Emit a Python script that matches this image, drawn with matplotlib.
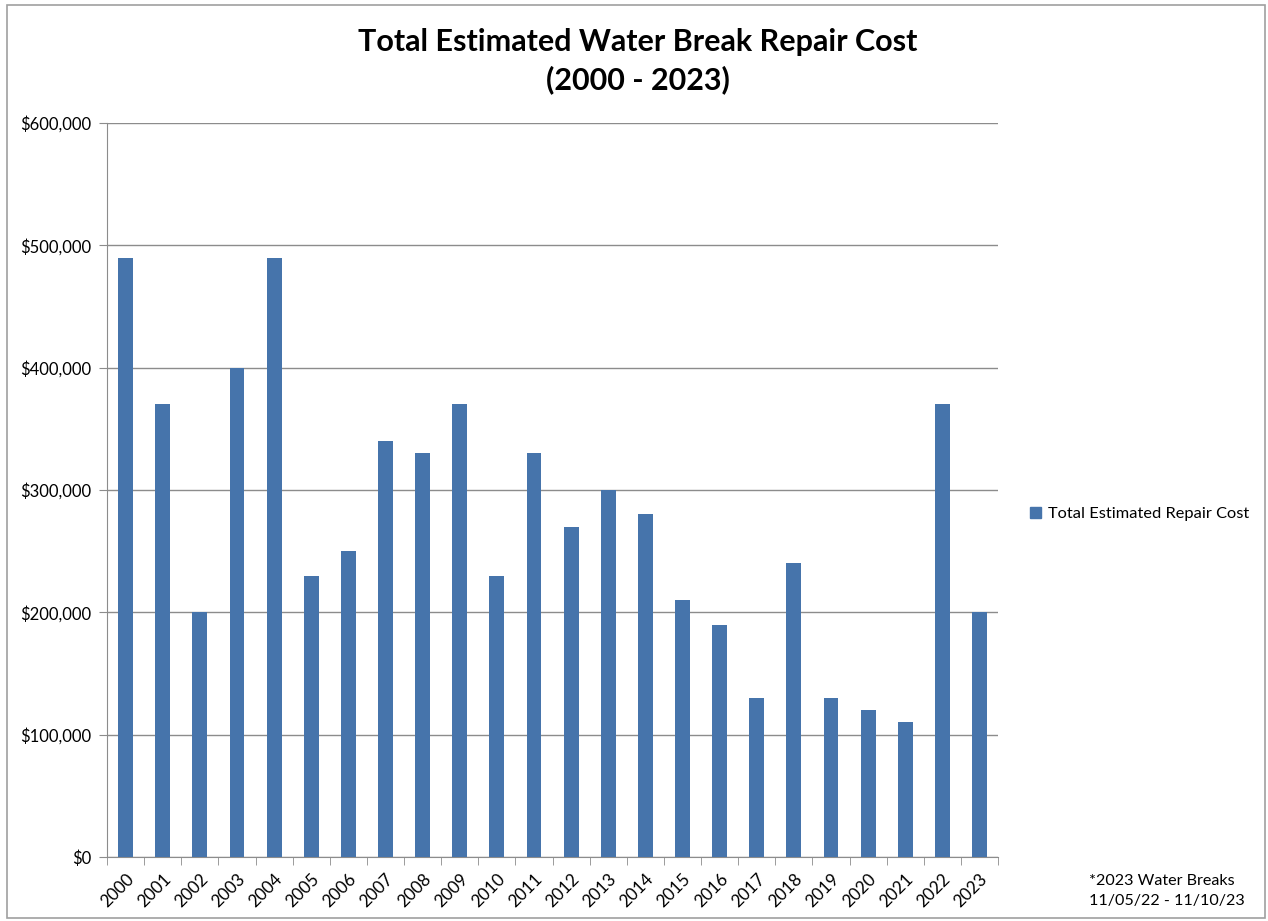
import matplotlib
matplotlib.use('Agg')
import matplotlib.pyplot as plt
from matplotlib.patches import Rectangle, Patch
from matplotlib.ticker import FuncFormatter, FixedLocator

years = ['2000', '2001', '2002', '2003', '2004', '2005', '2006', '2007', '2008', '2009',
         '2010', '2011', '2012', '2013', '2014', '2015', '2016', '2017', '2018', '2019',
         '2020', '2021', '2022', '2023']
costs = [490000, 370000, 200000, 400000, 490000, 230000, 250000, 340000, 330000, 370000,
         230000, 330000, 270000, 300000, 280000, 210000, 190000, 130000, 240000, 130000,
         120000, 110000, 370000, 200000]
y_ticks = [0, 100000, 200000, 300000, 400000, 500000, 600000]

plt.rcParams['font.family'] = ['Lato', 'DejaVu Sans']
bar_color = '#4674AB'
grid_color = '#8c8c8c'

fig = plt.figure(figsize=(12.68, 9.21), dpi=100)
ax = fig.add_axes([0.0844, 0.0695, 0.7027, 0.797])

x = list(range(len(years)))
ax.bar(x, costs, width=0.4, color=bar_color, zorder=3, label='Total Estimated Repair Cost')

ax.set_xlim(-0.5, len(years) - 0.5)
ax.set_ylim(0, 600000)
ax.set_yticks(y_ticks)
ax.yaxis.set_major_formatter(FuncFormatter(lambda v, p: '${:,.0f}'.format(v)))
ax.yaxis.grid(True, color=grid_color, linewidth=1, zorder=0)

ax.set_xticks(x)
ax.set_xticklabels(years, rotation=45, ha='right', rotation_mode='anchor')
ax.xaxis.set_minor_locator(FixedLocator([i - 0.5 for i in range(len(years) + 1)]))
ax.tick_params(axis='x', which='major', length=0, pad=10, labelsize=12.3)
ax.tick_params(axis='x', which='minor', length=6, color=grid_color)
ax.tick_params(axis='y', length=6, color=grid_color, labelsize=12, pad=5)

for s in ['top', 'right']:
    ax.spines[s].set_visible(False)
for s in ['left', 'bottom']:
    ax.spines[s].set_color(grid_color)

fig.text(0.503, 0.954, 'Total Estimated Water Break Repair Cost', ha='center', va='center',
         fontsize=22, fontweight='bold')
fig.text(0.503, 0.913, '(2000 - 2023)', ha='center', va='center',
         fontsize=22, fontweight='bold')

fig.legend(handles=[Patch(color=bar_color, label='Total Estimated Repair Cost')],
           loc='center left', bbox_to_anchor=(0.801, 0.442), frameon=False,
           fontsize=11.8, handlelength=0.65, handleheight=0.65, handletextpad=0.4)

fig.text(0.859, 0.0326, '*2023 Water Breaks\n11/05/22 - 11/10/23', ha='left', va='center',
         fontsize=11.6, linespacing=1.5)

fig.patches.append(Rectangle((0.0055, 0.003), 0.992, 0.992, transform=fig.transFigure,
                             fill=False, edgecolor='#a0a0a0', linewidth=1.2))

fig.savefig('out.png', dpi=100)
